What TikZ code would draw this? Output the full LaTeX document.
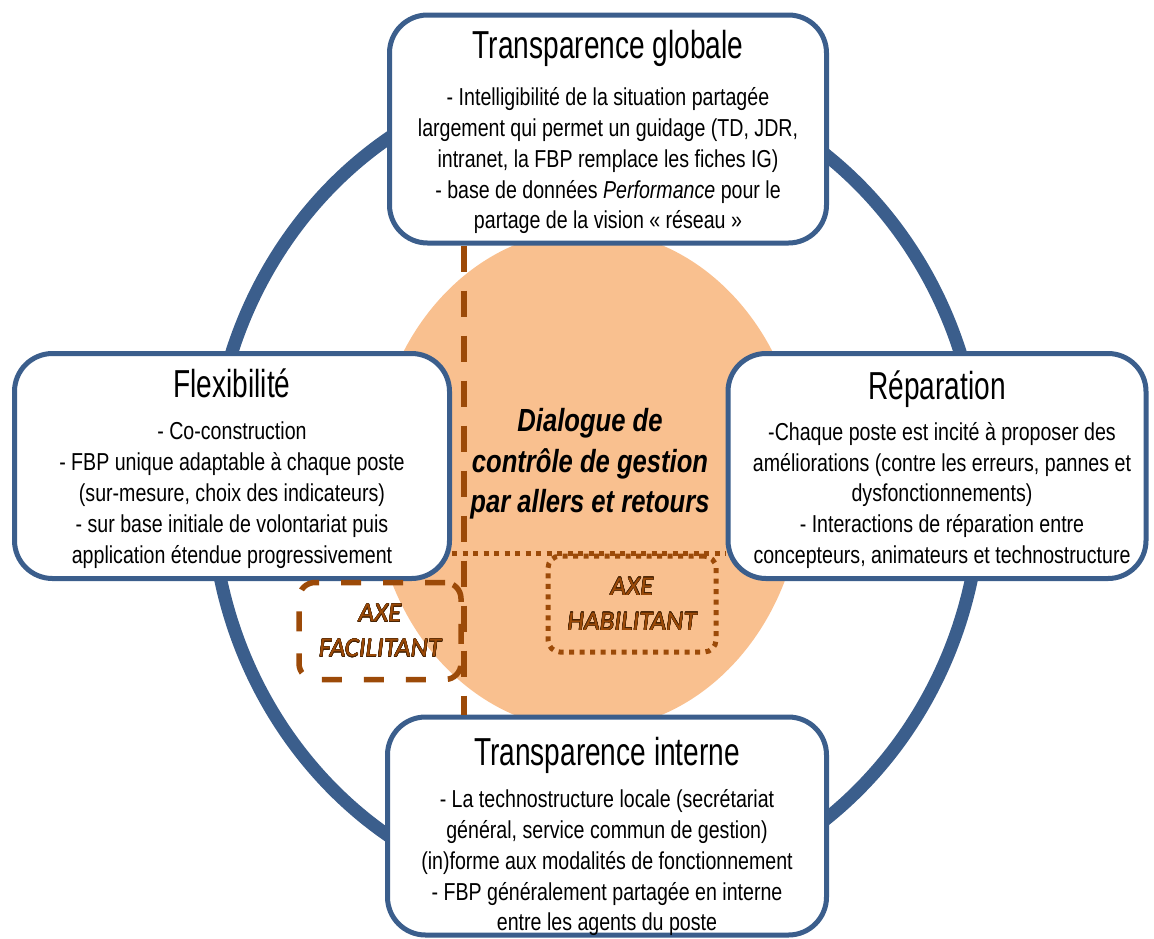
\documentclass[tikz,border=0pt]{standalone}
\usepackage{fontspec}
\usepackage{contour}
\setmainfont[FakeStretch=0.8]{Liberation Sans}
\newfontfamily\titrefont[FakeStretch=0.72]{Liberation Sans}
\newfontfamily\axefont{Carlito}
\usetikzlibrary{positioning}

\definecolor{bleuanneau}{RGB}{59,94,140}
\definecolor{orangeclair}{RGB}{249,192,143}
\definecolor{brunaxe}{RGB}{156,74,8}
\definecolor{brunfonce}{RGB}{70,35,5}
\contourlength{0.3pt}

\begin{document}
\begin{tikzpicture}[x=1pt, y=-1pt,
    boite/.style={draw=bleuanneau, line width=5pt, rounded corners=38pt, fill=white,
      minimum width=#1, inner sep=0pt},
    titre/.style={font=\titrefont\fontsize{39}{43}\selectfont, inner sep=0pt, anchor=north},
    corps/.style={font=\fontsize{24.5}{30.8}\selectfont, align=center, inner sep=0pt, anchor=north},
    axe/.style={text=brunaxe, font=\axefont\itshape\fontsize{27}{35}\selectfont, align=center,
      line width=5pt, inner sep=0pt},
    tirets/.style={draw=brunaxe, line width=5.5pt, dash pattern=on 26pt off 19pt},
    pointilles/.style={draw=brunaxe, line width=5pt, dash pattern=on 5pt off 5.5pt}]

  \useasboundingbox (0,0) rectangle (1154,938);

  % Anneau
  \draw[bleuanneau, line width=13pt] (596,487) ellipse [x radius=385, y radius=414];

  % Disque
  \fill[orangeclair] (588,480) ellipse [x radius=215, y radius=250];

  % Boites
  \node[boite=437pt, minimum height=228pt] (tg) at (608,129) {};
  \node[boite=435pt, minimum height=225pt] (fl) at (232,466) {};
  \node[boite=418pt, minimum height=225pt] (re) at (937,466) {};
  \node[boite=439pt, minimum height=218pt] (ti) at (607,826) {};

  % Axes
  \node[axe, tirets, dash pattern=on 20pt off 22pt, rounded corners=16pt,
    minimum width=162pt, minimum height=97pt] (axf) at (380,631)
    {\contour{brunfonce}{AXE}\\\contour{brunfonce}{FACILITANT}};
  \node[axe, pointilles, rounded corners=12pt,
    minimum width=168pt, minimum height=96pt] (axh) at (632,604)
    {\contour{brunfonce}{AXE}\\\contour{brunfonce}{HABILITANT}};
  \draw[tirets] (tg.south -| axf.east) -- (ti.north -| axf.east);
  \draw[pointilles] (fl.east |- axh.north) -- (re.west |- axh.north);

  % Textes
  \node[titre] (tgt) at ([yshift=-18pt]tg.north) {Transparence globale};
  \node[corps] (tgc) at ([yshift=-75pt]tg.north) {- Intelligibilité de la situation partagée\\
    largement qui permet un guidage (TD, JDR,\\
    intranet, la FBP remplace les fiches IG)\\
    - base de données \textit{Performance} pour le\\
    partage de la vision « réseau »};

  \node[titre] (flt) at ([yshift=-18pt]fl.north) {Flexibilité};
  \node[corps] (flc) at ([yshift=-71pt]fl.north) {- Co-construction\\
    - FBP unique adaptable à chaque poste\\
    (sur-mesure, choix des indicateurs)\\
    - sur base initiale de volontariat puis\\
    application étendue progressivement};

  \node[titre] (ret) at ([yshift=-20pt]re.north) {Réparation};
  \node[corps] (rec) at ([xshift=5pt, yshift=-71pt]re.north) {-Chaque poste est incité à proposer des\\
    améliorations (contre les erreurs, pannes et\\
    dysfonctionnements)\\
    - Interactions de réparation entre\\
    concepteurs, animateurs et technostructure};

  \node[titre] (tit) at ([yshift=-23pt]ti.north) {Transparence interne};
  \node[corps] (tic) at ([yshift=-75pt]ti.north) {- La technostructure locale (secrétariat\\
    général, service commun de gestion)\\
    (in)forme aux modalités de fonctionnement\\
    - FBP généralement partagée en interne\\
    entre les agents du poste};

  \node[font=\bfseries\itshape\fontsize{32}{40.5}\selectfont, align=center] (dial) at (590,464)
    {Dialogue de\\contrôle de gestion\\par allers et retours};

\end{tikzpicture}
\end{document}
